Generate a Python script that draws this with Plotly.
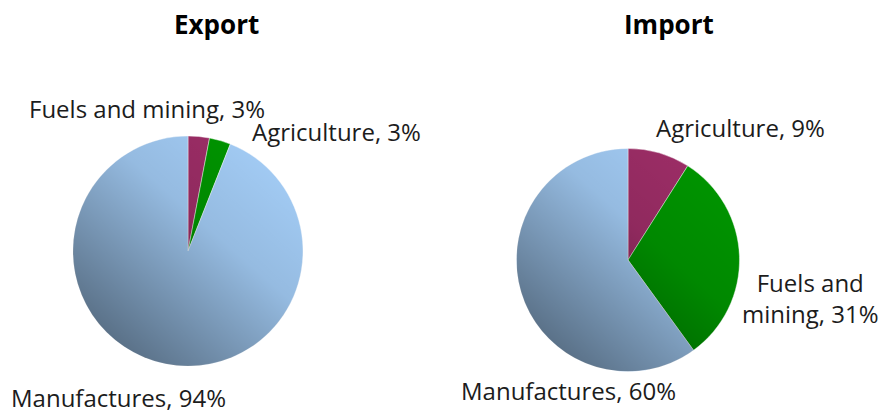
import base64
import plotly.graph_objects as go

# Shares of trade by product group (%)
export_labels = ["Fuels and mining", "Agriculture", "Manufactures"]
export_values = [3, 3, 94]
import_labels = ["Agriculture", "Fuels and mining", "Manufactures"]
import_values = [9, 31, 60]
panel_titles = ["Export", "Import"]

slice_colors = ["#9c2d66", "#009400", "#a2cbf4"]

W, H = 882, 414
FONT = "Open Sans"
TEXT_COLOR = "#1c1c1c"


def px_domain(cx, cy, r):
    """Square pie domain (paper coords) from a pixel centre and radius."""
    return dict(x=[(cx - r) / W, (cx + r) / W],
                y=[1 - (cy + r) / H, 1 - (cy - r) / H])


pies = [
    dict(labels=export_labels, values=export_values, cx=188, cy=251, r=115),
    dict(labels=import_labels, values=import_values, cx=628, cy=260, r=111.5),
]

fig = go.Figure()
for p in pies:
    fig.add_trace(go.Pie(
        labels=p["labels"], values=p["values"],
        sort=False, direction="clockwise", rotation=0,
        domain=px_domain(p["cx"], p["cy"], p["r"]),
        marker=dict(colors=slice_colors,
                    line=dict(color="rgba(255,255,255,0.55)", width=0.8)),
        textinfo="none", hoverinfo="label+percent", showlegend=False,
    ))

# soft shading across each pie, light at top-right and darker to bottom-left
shade_svg = (
    '<svg xmlns="http://www.w3.org/2000/svg" viewBox="0 0 100 100">'
    '<defs><linearGradient id="g" x1="0.85" y1="0.1" x2="0.1" y2="0.95">'
    '<stop offset="0" stop-color="#000" stop-opacity="0"/>'
    '<stop offset="0.35" stop-color="#000" stop-opacity="0.08"/>'
    '<stop offset="1" stop-color="#000" stop-opacity="0.5"/>'
    '</linearGradient></defs>'
    '<circle cx="50" cy="50" r="50" fill="url(#g)"/></svg>'
)
shade_src = "data:image/svg+xml;base64," + base64.b64encode(shade_svg.encode()).decode()
images = []
for p in pies:
    d = px_domain(p["cx"], p["cy"], p["r"])
    images.append(dict(source=shade_src, xref="paper", yref="paper",
                       x=d["x"][0], y=d["y"][1],
                       sizex=d["x"][1] - d["x"][0], sizey=d["y"][1] - d["y"][0],
                       xanchor="left", yanchor="top", sizing="stretch",
                       layer="above"))

# data labels: "<category>, <value>%" placed around each pie (pixel anchors)
label_pos = [
    [(147, 108), (336, 131), (118, 397)],
    [(740, 127), (810, 298), (568, 390)],
]
annotations = []
for p, pos in zip(pies, label_pos):
    for lab, val, (x, y) in zip(p["labels"], p["values"], pos):
        text = f"{lab}, {val}%"
        if lab == "Fuels and mining" and p is pies[1]:
            text = f"Fuels and<br>mining, {val}%"
        annotations.append(dict(
            text=text, x=x / W, y=1 - y / H, xref="paper", yref="paper",
            xanchor="center", yanchor="middle", showarrow=False, borderpad=0,
            font=dict(family=FONT, size=24, color=TEXT_COLOR),
        ))

for title, x in zip(panel_titles, [216, 669]):
    annotations.append(dict(
        text=f"<b>{title}</b>", x=x / W, y=1 - 24 / H, xref="paper", yref="paper",
        xanchor="center", yanchor="middle", showarrow=False,
        font=dict(family=FONT, size=26, color="#000000"),
    ))

fig.update_layout(
    width=W, height=H,
    margin=dict(l=0, r=0, t=0, b=0),
    paper_bgcolor="white", plot_bgcolor="white",
    annotations=annotations, images=images,
)

fig.write_html("out.html")
